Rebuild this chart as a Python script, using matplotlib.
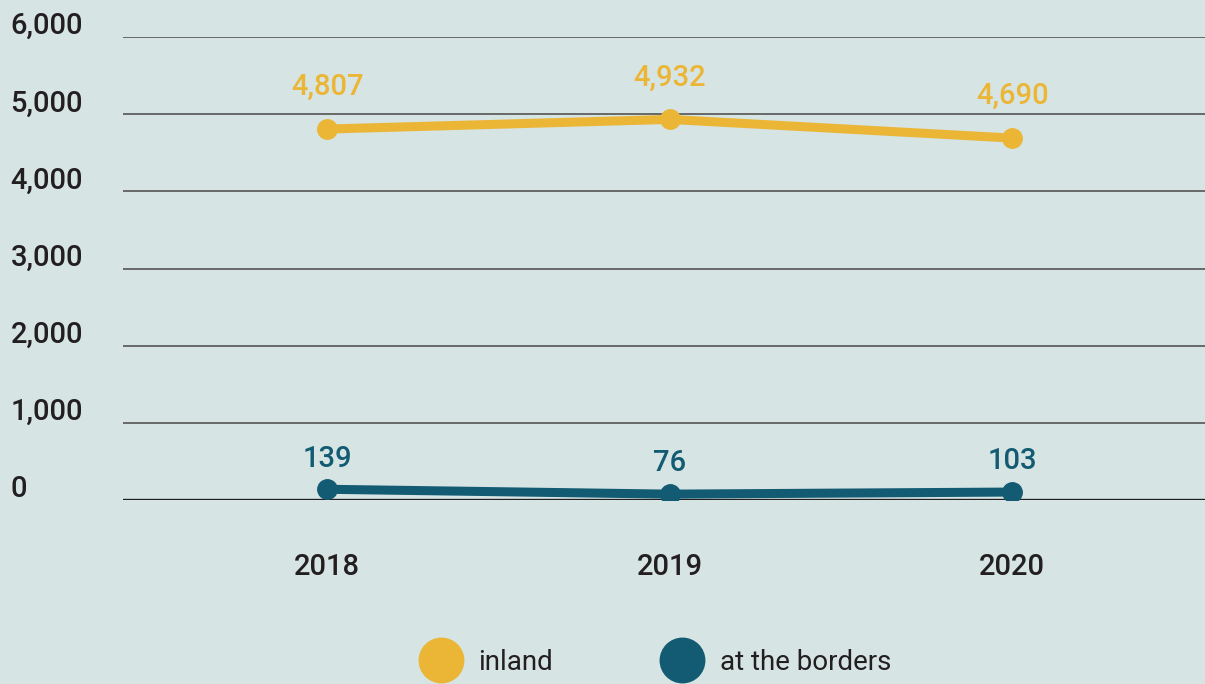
import matplotlib
matplotlib.use("Agg")
import matplotlib.pyplot as plt
from matplotlib.lines import Line2D
from matplotlib.ticker import FuncFormatter
import matplotlib.transforms as mtransforms

plt.rcParams['font.family'] = ['Roboto', 'DejaVu Sans']

years = ["2018", "2019", "2020"]
inland = [4807, 4932, 4690]
borders = [139, 76, 103]
y_ticks = [0, 1000, 2000, 3000, 4000, 5000, 6000]

bg = "#d6e4e3"
yellow = "#ebb635"
teal = "#125b73"
dark = "#231f20"

fig = plt.figure(figsize=(12.05, 6.84), dpi=100, facecolor=bg)
ax = fig.add_axes([123 / 1205, 1 - 500 / 684, 1 - 123 / 1205, (500 - 37) / 684])
ax.set_facecolor(bg)

x = list(range(len(years)))
ax.plot(x, inland, color=yellow, lw=6.5, marker='o', ms=14, solid_capstyle='round', zorder=3)
ax.plot(x, borders, color=teal, lw=6.5, marker='o', ms=14, solid_capstyle='round', zorder=3)

for xi, v in zip(x, inland):
    ax.annotate(f"{v:,}", (xi, v), xytext=(0, 20), textcoords='offset points',
                ha='center', va='bottom', color=yellow, fontsize=21, fontweight='medium')
for xi, v in zip(x, borders):
    ax.annotate(f"{v:,}", (xi, v), xytext=(0, 12), textcoords='offset points',
                ha='center', va='bottom', color=teal, fontsize=21, fontweight='medium')

ax.set_xlim(-0.596, 2.563)
ax.set_ylim(0, 6000)
ax.set_yticks(y_ticks)
ax.yaxis.set_major_formatter(FuncFormatter(lambda v, p: f"{int(v):,}"))
ax.set_xticks(x)
ax.set_xticklabels(years)

for yt in y_ticks[1:]:
    ax.axhline(yt, color="#5f5f5f", lw=1.3, zorder=1)
ax.axhline(0, color=dark, lw=2.4, zorder=2)

for s in ax.spines.values():
    s.set_visible(False)
ax.tick_params(axis='y', length=0, pad=81, labelsize=21, labelcolor=dark)
ax.tick_params(axis='x', length=0, pad=38, labelsize=21, labelcolor=dark)
offset = mtransforms.ScaledTranslation(0, 2 / 72, fig.dpi_scale_trans)
for lab in ax.get_yticklabels():
    lab.set_horizontalalignment('left')
    lab.set_verticalalignment('baseline')
    lab.set_transform(lab.get_transform() + offset)
    lab.set_fontweight('medium')
for lab in ax.get_xticklabels():
    lab.set_fontweight('medium')

handles = [Line2D([], [], ls='none', marker='o', ms=32, color=yellow),
           Line2D([], [], ls='none', marker='o', ms=32, color=teal)]
fig.legend(handles, ["inland", "at the borders"], loc='center',
           bbox_to_anchor=(652 / 1205, 1 - 662 / 684), ncol=2, frameon=False,
           fontsize=20, handletextpad=0.35, columnspacing=3.65, labelcolor=dark)

fig.savefig("out.png", dpi=100, facecolor=bg)
